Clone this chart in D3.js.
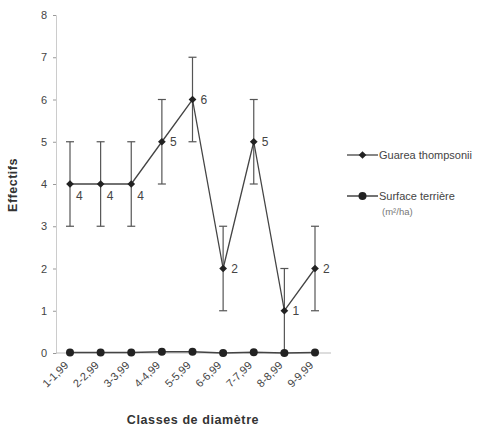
<!DOCTYPE html>
<html>
  <head>
    <meta charset="utf-8">
    <title>effectifs</title>
    <script src="https://d3js.org/d3.v7.min.js"></script>
    <style>
      body { margin: 0; background: #fff; }
      text { font-family: "Liberation Sans", Arial, sans-serif; }
    </style>
  </head>
  <body>
    <script>
      //Data
      var classes = ["1-1,99", "2-2,99", "3-3,99", "4-4,99", "5-5,99",
                     "6-6,99", "7-7,99", "8-8,99", "9-9,99"];
      var effectifs = [4, 4, 4, 5, 6, 2, 5, 1, 2];
      var erreur = [1, 1, 1, 1, 1, 1, 1, 1, 1];
      var surface = [0.01, 0.01, 0.01, 0.03, 0.03, 0.0, 0.02, 0.0, 0.01];
      var yTicks = [0, 1, 2, 3, 4, 5, 6, 7, 8];

      var w = 486, h = 432;
      var ink = "#333";

      var svg = d3.select("body").append("svg")
                  .attr("width", w)
                  .attr("height", h);

      //Scales
      var x = d3.scalePoint()
                .domain(classes)
                .range([70, 315]);
      var y = d3.scaleLinear()
                .domain([0, 8])
                .range([353, 15]);

      //Y axis
      var yAxis = svg.append("g")
                     .attr("transform", "translate(56,0)")
                     .call(d3.axisLeft(y).tickValues(yTicks).tickSize(3).tickPadding(6));
      yAxis.select(".domain").attr("stroke", "#ccc");
      yAxis.selectAll(".tick line").attr("stroke", "#999");
      yAxis.selectAll("text").attr("font-size", "11px").attr("fill", "#444");

      //X axis baseline
      svg.append("line")
         .attr("x1", 56).attr("x2", 331)
         .attr("y1", y(0)).attr("y2", y(0))
         .attr("stroke", "#bbb");

      //X labels, rotated
      svg.selectAll(".xl")
         .data(classes)
         .enter()
         .append("text")
         .attr("class", "xl")
         .attr("transform", function(d) {
           return "translate(" + (x(d) - 1) + "," + (y(0) + 13) + ") rotate(-45)";
         })
         .attr("text-anchor", "end")
         .attr("font-size", "11px")
         .attr("fill", "#444")
         .text(function(d) { return d; });

      //Titles
      svg.append("text")
         .attr("x", 193).attr("y", 424)
         .attr("text-anchor", "middle")
         .attr("font-size", "12.5px")
         .attr("font-weight", "bold")
         .attr("letter-spacing", "0.6px")
         .attr("fill", ink)
         .text("Classes de diamètre");

      svg.append("text")
         .attr("transform", "translate(17,185) rotate(-90)")
         .attr("text-anchor", "middle")
         .attr("font-size", "12.5px")
         .attr("font-weight", "bold")
         .attr("letter-spacing", "0.5px")
         .attr("fill", ink)
         .text("Effectifs");

      //Error bars
      var eb = svg.selectAll(".eb")
                  .data(effectifs)
                  .enter()
                  .append("g")
                  .attr("class", "eb")
                  .attr("stroke", "#555")
                  .attr("stroke-width", 1.2);
      eb.append("line")
        .attr("x1", function(d, i) { return x(classes[i]); })
        .attr("x2", function(d, i) { return x(classes[i]); })
        .attr("y1", function(d, i) { return y(d - erreur[i]); })
        .attr("y2", function(d, i) { return y(d + erreur[i]); });
      eb.append("line")
        .attr("x1", function(d, i) { return x(classes[i]) - 4; })
        .attr("x2", function(d, i) { return x(classes[i]) + 4; })
        .attr("y1", function(d, i) { return y(d + erreur[i]); })
        .attr("y2", function(d, i) { return y(d + erreur[i]); });
      eb.append("line")
        .attr("x1", function(d, i) { return x(classes[i]) - 4; })
        .attr("x2", function(d, i) { return x(classes[i]) + 4; })
        .attr("y1", function(d, i) { return y(d - erreur[i]); })
        .attr("y2", function(d, i) { return y(d - erreur[i]); });

      //Lines
      var line = d3.line()
                   .x(function(d, i) { return x(classes[i]); })
                   .y(function(d) { return y(d); });

      svg.append("path")
         .datum(effectifs)
         .attr("d", line)
         .attr("fill", "none")
         .attr("stroke", "#444")
         .attr("stroke-width", 1.3);

      svg.append("path")
         .datum(surface)
         .attr("d", line)
         .attr("fill", "none")
         .attr("stroke", "#444")
         .attr("stroke-width", 1.5);

      //Markers (square turned 45deg)
      var diamond = d3.symbol().type(d3.symbolSquare).size(30);
      svg.selectAll(".pt")
         .data(effectifs)
         .enter()
         .append("path")
         .attr("class", "pt")
         .attr("d", diamond)
         .attr("transform", function(d, i) {
           return "translate(" + x(classes[i]) + "," + y(d) + ") rotate(45)";
         })
         .attr("fill", "#222");

      svg.selectAll(".sp")
         .data(surface)
         .enter()
         .append("circle")
         .attr("class", "sp")
         .attr("cx", function(d, i) { return x(classes[i]); })
         .attr("cy", function(d) { return y(d); })
         .attr("r", 4)
         .attr("fill", "#222");

      //Value labels
      svg.selectAll(".vl")
         .data(effectifs)
         .enter()
         .append("text")
         .attr("class", "vl")
         .attr("x", function(d, i) { return x(classes[i]) + (i < 3 ? 6 : 8); })
         .attr("y", function(d, i) {
           if (i < 3) return y(d) + 16;
           return y(d) + 4;
         })
         .attr("font-size", "12px")
         .attr("fill", "#444")
         .text(function(d) { return d; });

      //Legend
      var leg = svg.append("g").attr("transform", "translate(347,0)");
      leg.append("line").attr("x1", 0).attr("x2", 31).attr("y1", 155).attr("y2", 155)
         .attr("stroke", "#444").attr("stroke-width", 1.3);
      leg.append("path").attr("d", diamond).attr("transform", "translate(15.5,155) rotate(45)").attr("fill", "#222");
      leg.append("text").attr("x", 32).attr("y", 159)
         .attr("font-size", "11px").attr("fill", "#444").text("Guarea thompsonii");

      leg.append("line").attr("x1", 0).attr("x2", 31).attr("y1", 196).attr("y2", 196)
         .attr("stroke", "#444").attr("stroke-width", 1.5);
      leg.append("circle").attr("cx", 15.5).attr("cy", 196).attr("r", 4).attr("fill", "#222");
      leg.append("text").attr("x", 32).attr("y", 200)
         .attr("font-size", "11px").attr("fill", "#444").text("Surface terrière");
      leg.append("text").attr("x", 35).attr("y", 215)
         .attr("font-size", "9.5px").attr("fill", "#777").text("(m²/ha)");
    </script>
  </body>
</html>
